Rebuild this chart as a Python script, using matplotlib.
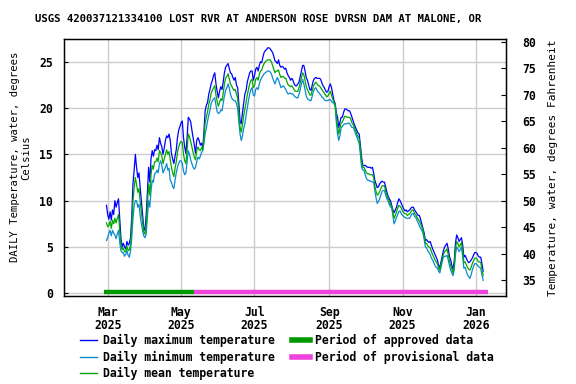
import matplotlib
matplotlib.use("Agg")
import matplotlib.pyplot as plt
import pandas as pd
from matplotlib.lines import Line2D

# daily values, deg C, starting 2025-02-28
daily_max = [
    9.5, 8.5, 8.0, 8.8, 7.9, 9.0, 8.5, 10.0, 9.3, 9.8,
    10.2, 8.0, 6.0, 5.0, 5.4, 5.0, 4.8, 5.6, 5.2, 5.4,
    6.0, 8.2, 11.8, 13.3, 15.0, 13.6, 12.5, 13.0, 11.4, 10.0,
    8.5, 7.0, 6.8, 8.5, 10.8, 13.6, 12.0, 14.5, 15.4, 14.8,
    15.5, 15.4, 16.0, 15.5, 16.8, 16.2, 15.8, 15.0, 15.7, 16.5,
    17.0, 16.8, 17.2, 16.5, 15.1, 14.5, 14.0, 14.8, 15.5, 16.8,
    17.6, 18.0, 18.4, 18.6, 16.8, 15.8, 15.1, 16.8, 19.0, 18.8,
    18.5, 17.6, 16.8, 16.0, 15.1, 16.5, 16.8, 16.5, 16.0, 16.2,
    15.6, 17.5, 19.7, 20.3, 20.6, 21.5, 22.0, 22.6, 23.0, 23.5,
    23.8, 22.6, 21.8, 21.1, 21.8, 22.3, 22.0, 22.8, 23.8, 24.4,
    24.6, 24.8, 24.3, 23.8, 23.7, 23.3, 23.0, 23.3, 22.5, 22.2,
    20.5, 18.6, 18.3, 19.5, 20.5, 21.5, 21.9, 22.8, 23.3, 23.8,
    24.0, 24.0, 23.0, 23.5, 24.2, 24.4, 24.0, 24.6, 25.0, 24.9,
    25.5, 26.0, 26.2, 26.3, 26.5, 26.5, 26.4, 26.2, 26.0, 25.6,
    25.1, 25.0, 24.8, 25.2, 24.6, 24.4, 24.5, 24.4, 24.2, 24.3,
    23.8, 23.5, 23.3, 23.0, 23.2, 23.0, 22.6, 22.4, 22.4, 22.6,
    22.8, 23.4, 24.0, 24.6, 24.6, 24.0, 23.3, 23.0, 22.5, 22.0,
    21.9, 22.5, 23.0, 23.2, 23.3, 23.2, 23.2, 23.2, 23.1, 22.7,
    22.4, 22.2, 21.9, 21.7, 21.8, 22.3, 22.6, 22.2, 21.5, 20.8,
    20.5, 19.5, 19.0, 17.9, 18.5, 19.0, 19.0, 19.5, 19.9, 19.9,
    19.8, 19.7, 19.7, 19.4, 19.0, 18.6, 18.2, 17.9, 17.6, 17.3,
    17.2, 16.0, 14.7, 13.8, 13.8, 13.8, 13.7, 13.6, 13.6, 13.6,
    13.5, 13.6, 13.0, 12.2, 11.8, 11.4, 11.5, 11.8, 12.0, 12.1,
    12.0, 12.0, 11.5, 10.9, 10.5, 10.2, 10.0, 9.5, 9.0, 8.7,
    9.0, 9.3, 9.8, 10.2, 10.0, 9.7, 9.4, 9.1, 8.9, 9.0,
    8.8, 8.9, 9.0, 9.2, 9.3, 9.3, 9.0, 8.8, 8.6, 8.4,
    8.4, 8.0, 7.5, 7.0, 6.5, 5.7, 5.8, 5.6, 5.5, 5.6,
    5.2, 4.8, 4.5, 4.2, 3.9, 3.6, 3.0, 2.8, 3.4, 4.0,
    4.6, 5.0, 5.2, 5.4, 4.8, 4.0, 3.6, 3.0, 2.6, 3.5,
    5.4, 6.3, 6.0, 5.6, 5.8, 6.0, 5.2, 3.9, 4.1, 3.8,
    3.5, 3.3, 3.4, 3.6, 3.8, 4.1, 4.4, 4.4, 4.3, 4.0,
    3.9, 3.9, 3.2, 2.4,
]

daily_min = [
    5.7, 6.0, 6.5, 6.8, 6.2, 6.8, 6.5, 6.3, 5.9, 6.4,
    6.8, 5.5, 4.6, 4.4, 4.4, 4.0, 4.2, 4.6, 4.1, 3.9,
    4.6, 6.0, 8.0, 9.5, 10.0, 10.0, 9.3, 9.6, 8.4, 7.5,
    6.8, 6.2, 6.0, 6.4, 8.2, 10.0, 9.3, 11.0, 12.2, 12.0,
    12.9, 13.0, 13.3, 13.0, 14.0, 14.3, 13.8, 13.0, 13.3, 13.6,
    14.0, 13.3, 13.5, 12.2, 12.0, 11.5, 11.3, 12.2, 13.0, 13.6,
    14.0, 14.3, 14.3, 14.0, 13.2, 12.8, 13.0, 14.2, 15.4, 15.0,
    14.4, 14.0, 13.6, 13.4, 13.6, 14.2, 14.7, 14.5, 14.8, 15.2,
    15.4, 16.2, 17.2, 17.8, 18.6, 19.2, 19.8, 20.5, 20.8, 21.0,
    21.1, 20.3, 19.6, 19.4, 19.5, 19.8, 19.7, 20.5, 21.3, 21.9,
    22.2, 22.6, 22.2, 21.5, 21.1, 20.9, 20.8, 20.8, 20.5, 20.0,
    18.5, 17.2, 16.5, 17.0, 17.8, 18.3, 19.2, 20.0, 20.8, 21.5,
    22.0, 22.2, 21.4, 21.3, 22.0, 22.2, 22.0, 22.6, 23.0, 23.3,
    23.5, 23.7, 23.8, 23.9, 24.0, 24.0, 23.9, 23.7, 23.3, 22.9,
    22.6, 23.0, 23.3, 23.0, 22.6, 22.2, 22.3, 22.4, 22.2, 22.0,
    21.7, 21.5, 21.6, 21.6, 21.5, 21.5, 21.3, 21.2, 21.1, 21.1,
    21.5, 22.0, 22.6, 23.1, 22.6, 22.0, 21.3, 21.0, 20.9, 20.8,
    20.8, 21.3, 21.8, 22.1, 22.2, 21.9, 21.7, 21.6, 21.4, 21.2,
    21.1, 20.9, 20.8, 20.8, 20.8, 20.9, 20.9, 20.7, 20.6, 20.5,
    20.2, 18.5, 17.2, 16.5, 17.0, 17.9, 18.0, 18.2, 18.3, 18.3,
    18.3, 18.4, 18.3, 18.1, 17.9, 17.9, 17.6, 17.2, 16.9, 16.5,
    16.2, 15.0, 13.6, 13.3, 13.3, 12.8, 12.4, 12.2, 12.2, 12.1,
    12.1, 12.0, 12.0, 11.1, 10.3, 9.7, 9.9, 10.2, 10.6, 11.0,
    11.1, 11.1, 10.6, 10.2, 10.0, 9.6, 9.3, 9.3, 8.4, 7.5,
    7.8, 8.2, 8.5, 8.8, 8.9, 8.6, 8.4, 8.3, 8.2, 8.1,
    8.1, 8.1, 8.1, 8.4, 8.6, 8.6, 8.3, 8.2, 7.9, 7.6,
    7.3, 7.0, 6.8, 6.5, 5.8, 5.0, 4.9, 4.6, 4.4, 4.2,
    3.8, 3.6, 3.3, 3.0, 2.8, 2.7, 2.4, 2.2, 2.8, 3.4,
    3.9, 4.0, 4.0, 4.1, 3.6, 3.0, 2.5, 2.2, 1.9, 2.6,
    4.2, 5.0, 4.8, 4.5, 4.7, 5.0, 4.0, 2.7, 2.8, 2.4,
    2.0, 1.8, 1.6, 2.0, 2.5, 2.9, 3.2, 3.2, 3.1, 2.9,
    2.8, 2.7, 2.0, 1.4,
]

daily_mean = [
    7.6, 7.2, 7.3, 7.8, 7.0, 7.9, 7.5, 8.1, 7.6, 8.1,
    8.5, 6.8, 5.3, 4.7, 4.9, 4.5, 4.5, 5.1, 4.6, 4.7,
    5.3, 7.1, 9.9, 11.4, 12.5, 11.8, 10.9, 11.3, 9.9, 8.8,
    7.6, 6.6, 6.4, 7.4, 9.5, 11.8, 10.6, 12.8, 13.8, 13.4,
    14.2, 14.2, 14.6, 14.2, 15.4, 15.2, 14.8, 14.0, 14.5, 15.0,
    15.5, 15.0, 15.3, 14.4, 13.6, 13.0, 12.6, 13.5, 14.2, 15.2,
    15.8, 16.2, 16.4, 16.3, 15.0, 14.3, 14.0, 15.5, 17.2, 16.9,
    16.4, 15.8, 15.2, 14.7, 14.4, 15.4, 15.8, 15.5, 15.4, 15.7,
    15.5, 16.8, 18.4, 19.0, 19.6, 20.4, 20.9, 21.6, 21.9, 22.2,
    22.4, 21.4, 20.7, 20.2, 20.6, 21.0, 20.8, 21.6, 22.6, 23.2,
    23.4, 23.7, 23.2, 22.6, 22.4, 22.1, 21.9, 22.0, 21.5, 21.1,
    19.5, 17.9, 17.4, 18.2, 19.2, 19.9, 20.6, 21.4, 22.0, 22.6,
    23.0, 23.1, 22.2, 22.4, 23.1, 23.3, 23.0, 23.6, 24.0, 24.1,
    24.5, 24.8, 25.0, 25.1, 25.2, 25.2, 25.2, 25.0, 24.6, 24.2,
    23.8, 24.0, 24.0, 24.1, 23.6, 23.3, 23.4, 23.4, 23.2, 23.2,
    22.8, 22.5, 22.4, 22.3, 22.4, 22.2, 22.0, 21.8, 21.8, 21.8,
    22.2, 22.7, 23.3, 23.8, 23.6, 23.0, 22.3, 22.0, 21.7, 21.4,
    21.4, 21.9, 22.4, 22.6, 22.8, 22.6, 22.4, 22.4, 22.2, 22.0,
    21.8, 21.6, 21.4, 21.2, 21.3, 21.6, 21.8, 21.4, 21.0, 20.6,
    20.4, 19.0, 18.1, 17.2, 17.8, 18.4, 18.5, 18.8, 19.1, 19.1,
    19.0, 19.0, 19.0, 18.8, 18.4, 18.2, 17.9, 17.6, 17.2, 16.9,
    16.7, 15.5, 14.2, 13.6, 13.6, 13.3, 13.0, 12.9, 12.9, 12.8,
    12.8, 12.8, 12.5, 11.6, 11.0, 10.6, 10.7, 11.0, 11.3, 11.6,
    11.6, 11.6, 11.0, 10.6, 10.2, 9.9, 9.6, 9.4, 8.7, 8.1,
    8.4, 8.8, 9.2, 9.5, 9.4, 9.2, 8.9, 8.7, 8.6, 8.6,
    8.4, 8.5, 8.6, 8.8, 9.0, 9.0, 8.6, 8.5, 8.2, 8.0,
    7.8, 7.5, 7.2, 6.8, 6.2, 5.4, 5.4, 5.1, 5.0, 4.9,
    4.5, 4.2, 3.9, 3.6, 3.4, 3.2, 2.7, 2.5, 3.1, 3.7,
    4.2, 4.5, 4.6, 4.8, 4.2, 3.5, 3.0, 2.6, 2.2, 3.0,
    4.8, 5.6, 5.4, 5.0, 5.2, 5.5, 4.6, 3.3, 3.4, 3.1,
    2.8, 2.6, 2.5, 2.8, 3.2, 3.5, 3.8, 3.8, 3.7, 3.4,
    3.4, 3.3, 2.6, 1.9,
]

first_day = "2025-02-28"
approved_period = ("2025-02-26", "2025-05-12")
provisional_period = ("2025-05-12", "2026-01-11")
tick_dates = ["2025-03-01", "2025-05-01", "2025-07-01", "2025-09-01", "2025-11-01", "2026-01-01"]
tick_labels = ["Mar\n2025", "May\n2025", "Jul\n2025", "Sep\n2025", "Nov\n2025", "Jan\n2026"]

title = "USGS 420037121334100 LOST RVR AT ANDERSON ROSE DVRSN DAM AT MALONE, OR"

plt.rcParams["font.family"] = "DejaVu Sans Mono"
plt.rcParams["font.weight"] = "bold"
plt.rcParams["font.size"] = 8.3

c_max = "#0000ff"
c_min = "#0a8ad0"
c_mean = "#00a800"
c_appr = "#009900"
c_prov = "#ee44dd"

dates = pd.date_range(first_day, periods=len(daily_max), freq="D")

fig = plt.figure(figsize=(5.76, 3.84), dpi=100)
ax = fig.add_axes([64 / 576, 1 - 296 / 384, (506 - 64) / 576, (296 - 39) / 384])

ax.plot(dates, daily_max, color=c_max, lw=0.9)
ax.plot(dates, daily_min, color=c_min, lw=0.9)
ax.plot(dates, daily_mean, color=c_mean, lw=0.9)

bar_y = 0.15
ax.plot(pd.to_datetime(list(approved_period)), [bar_y, bar_y], color=c_appr, lw=3.2, solid_capstyle="butt")
ax.plot(pd.to_datetime(list(provisional_period)), [bar_y, bar_y], color=c_prov, lw=3.2, solid_capstyle="butt")

ax.set_xlim(pd.Timestamp("2025-01-23 17:00"), pd.Timestamp("2026-01-26"))
ax.set_ylim(-0.29, 27.45)
ax.set_yticks([0, 5, 10, 15, 20, 25])
ax.set_xticks(pd.to_datetime(tick_dates))
ax.set_xticklabels(tick_labels, linespacing=1.0)
ax.grid(True, color="#cccccc", lw=1.0)
ax.set_axisbelow(True)
ax.tick_params(axis="x", length=0, pad=7)
ax.tick_params(axis="y", direction="in", length=3, pad=8)
for s in ax.spines.values():
    s.set_linewidth(1.0)

ax.set_ylabel("DAILY Temperature, water, degrees\nCelsius", linespacing=1.15, fontsize=7.6)
ax.yaxis.set_label_coords(-0.075, 0.54)

ax2 = ax.twinx()
ax2.set_ylim(31.98, 80.5)
ax2.set_yticks(range(35, 81, 5))
ax2.tick_params(axis="y", direction="in", length=3.5, pad=12)
ax2.set_ylabel("Temperature, water, degrees Fahrenheit", labelpad=8, fontsize=8.0)

fig.text(258 / 576, 1 - 19 / 384, title, ha="center", va="center", fontsize=7.65, fontweight="bold")

handles = [
    Line2D([], [], color=c_max, lw=1.0),
    Line2D([], [], color=c_min, lw=1.0),
    Line2D([], [], color=c_mean, lw=1.0),
    Line2D([], [], color=c_appr, lw=4),
    Line2D([], [], color=c_prov, lw=4),
]
labels = [
    "Daily maximum temperature",
    "Daily minimum temperature",
    "Daily mean temperature",
    "Period of approved data",
    "Period of provisional data",
]
fig.legend(handles, labels, ncol=2, loc="upper left", bbox_to_anchor=(80 / 576, 1 - 334 / 384),
           frameon=False, handlelength=1.5, handletextpad=0.5, columnspacing=1.5,
           labelspacing=0.3, borderpad=0, borderaxespad=0)

fig.savefig("out.png", dpi=100)
